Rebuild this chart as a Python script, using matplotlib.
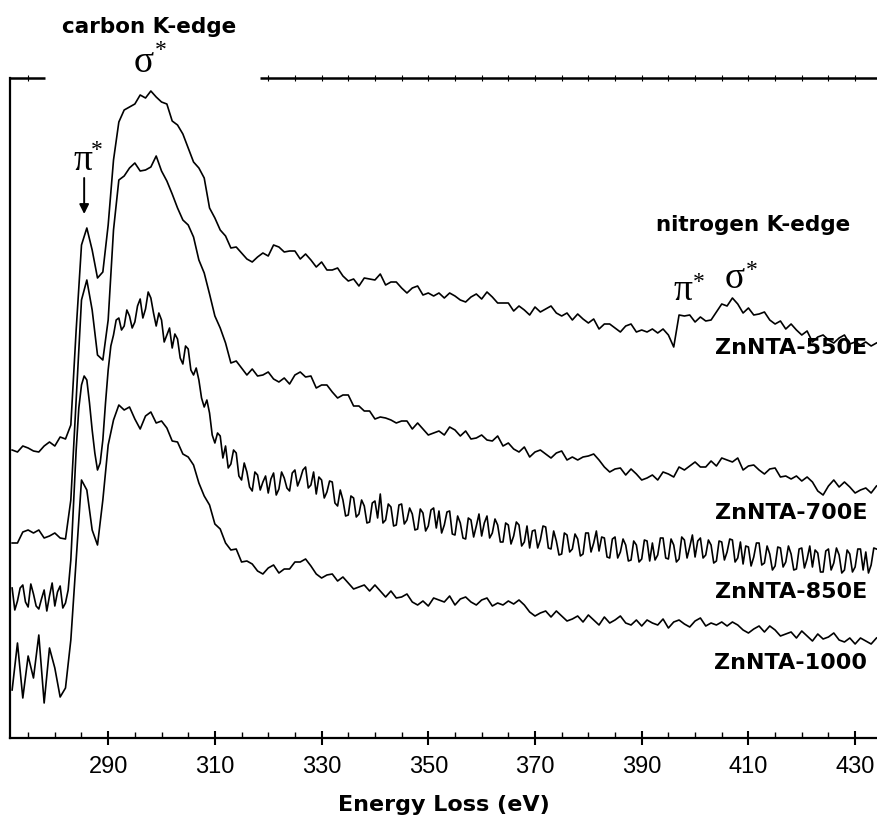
import numpy as np
import matplotlib.pyplot as plt

# energy loss channels (eV)
energy = np.arange(272, 435)
energy_fine = np.arange(272, 434.5, 0.5)  # finer channels for the noisy 850E run

# EELS intensities (a.u.), already stacked with vertical offsets
znnta_550e = [
    288, 286, 292, 290, 287, 286, 292, 296, 292, 301,
    299, 313, 408, 493, 510, 488, 460, 466, 513, 578,
    616, 628, 631, 634, 643, 640, 647, 641, 636, 634,
    617, 613, 604, 590, 576, 570, 560, 530, 520, 508,
    502, 490, 491, 485, 479, 476, 481, 485, 482, 493,
    491, 486, 487, 487, 479, 484, 478, 471, 476, 468,
    468, 470, 462, 457, 459, 452, 460, 459, 458, 464,
    453, 456, 456, 450, 445, 450, 452, 443, 445, 442,
    445, 440, 445, 442, 438, 436, 441, 444, 439, 446,
    441, 435, 435, 435, 427, 432, 428, 423, 431, 426,
    429, 432, 425, 422, 425, 418, 424, 419, 415, 419,
    409, 414, 414, 410, 406, 412, 414, 406, 408, 406,
    409, 405, 409, 403, 391, 423, 422, 423, 416, 421,
    417, 418, 426, 434, 432, 440, 434, 425, 430, 423,
    424, 426, 418, 414, 417, 409, 414, 408, 403, 407,
    396, 401, 403, 398, 395, 400, 403, 394, 396, 393,
    396, 392, 395,
]
znnta_700e = [
    195, 195, 206, 208, 205, 208, 200, 202, 205, 200,
    199, 238, 338, 438, 458, 428, 383, 378, 418, 508,
    558, 562, 570, 575, 567, 568, 571, 582, 567, 557,
    544, 530, 518, 513, 501, 478, 465, 444, 422, 410,
    395, 375, 377, 370, 363, 369, 362, 363, 366, 359,
    356, 360, 354, 363, 366, 361, 362, 350, 353, 353,
    346, 340, 343, 343, 332, 332, 327, 327, 319, 321,
    320, 318, 315, 317, 317, 309, 315, 309, 303, 305,
    307, 303, 311, 308, 302, 307, 299, 300, 303, 298,
    297, 302, 292, 295, 289, 286, 291, 281, 286, 288,
    284, 280, 285, 287, 278, 281, 278, 281, 282, 284,
    278, 271, 266, 269, 270, 263, 269, 264, 258, 260,
    263, 258, 266, 264, 261, 271, 268, 272, 276, 271,
    271, 277, 272, 280, 278, 276, 280, 268, 272, 273,
    268, 264, 269, 270, 261, 262, 259, 262, 257, 261,
    256, 247, 243, 252, 258, 251, 256, 251, 245, 248,
    250, 245, 252,
]
znnta_850e = [
    150, 128, 137, 150, 153, 136, 131, 154, 144, 132,
    129, 139, 148, 127, 142, 155, 132, 146, 152, 130,
    135, 148, 178, 232, 288, 330, 353, 362, 358, 335,
    308, 285, 268, 275, 298, 335, 368, 392, 403, 418,
    420, 408, 412, 428, 422, 410, 416, 432, 439, 420,
    429, 446, 440, 425, 412, 425, 418, 396, 403, 410,
    390, 404, 399, 380, 374, 392, 389, 368, 363, 370,
    358, 340, 331, 338, 325, 303, 295, 305, 302, 280,
    292, 270, 274, 288, 285, 262, 258, 275, 266, 251,
    247, 266, 263, 248, 256, 262, 245, 259, 265, 243,
    249, 266, 260, 250, 247, 265, 268, 252, 259, 268,
    271, 250, 253, 266, 244, 261, 258, 240, 246, 257,
    256, 235, 232, 248, 238, 222, 223, 242, 240, 221,
    224, 238, 232, 215, 216, 235, 237, 220, 244, 215,
    218, 234, 231, 212, 213, 233, 234, 214, 218, 230,
    224, 208, 209, 229, 225, 207, 212, 228, 230, 210,
    227, 205, 213, 226, 227, 204, 203, 222, 215, 200,
    199, 220, 218, 201, 212, 224, 202, 215, 222, 200,
    205, 219, 213, 196, 196, 215, 213, 194, 202, 216,
    213, 192, 196, 212, 190, 207, 208, 190, 198, 212,
    211, 190, 189, 207, 197, 183, 184, 205, 203, 186,
    189, 204, 199, 182, 184, 205, 205, 186, 195, 207,
    187, 201, 200, 181, 180, 199, 201, 180, 186, 199,
    193, 177, 178, 197, 193, 176, 179, 198, 197, 177,
    195, 178, 183, 200, 200, 180, 179, 199, 193, 176,
    179, 201, 198, 180, 191, 203, 181, 197, 200, 180,
    183, 198, 193, 175, 177, 197, 196, 178, 186, 199,
    198, 176, 180, 196, 174, 192, 191, 172, 181, 195,
    195, 173, 175, 192, 184, 168, 172, 191, 190, 171,
    176, 192, 184, 168, 169, 189, 190, 170, 179, 192,
    171, 188, 185, 166, 166, 187, 189, 168, 175, 190,
    183, 165, 168, 188, 184, 166, 171, 189, 189, 168,
    186, 165, 173, 190, 189,
]
znnta_1000 = [
    48, 95, 40, 82, 60, 103, 35, 90, 70, 41,
    50, 98, 178, 258, 248, 208, 193, 238, 293, 318,
    333, 328, 331, 319, 309, 322, 326, 315, 317, 310,
    297, 296, 284, 281, 273, 255, 242, 233, 214, 209,
    195, 188, 189, 176, 177, 174, 167, 164, 170, 173,
    165, 169, 169, 176, 176, 179, 172, 164, 160, 163,
    164, 157, 161, 155, 149, 151, 153, 147, 153, 147,
    141, 147, 140, 141, 144, 136, 133, 137, 132, 140,
    138, 136, 142, 133, 139, 141, 136, 133, 138, 140,
    132, 135, 133, 137, 134, 138, 133, 126, 122, 125,
    127, 121, 127, 122, 117, 119, 122, 116, 123, 118,
    113, 121, 115, 118, 122, 115, 113, 118, 112, 118,
    115, 113, 119, 110, 116, 118, 114, 111, 117, 120,
    112, 115, 113, 116, 112, 116, 113, 108, 105, 109,
    112, 106, 112, 108, 102, 104, 106, 100, 107, 102,
    97, 104, 99, 101, 105, 98, 96, 100, 94, 100,
    97, 94, 100,
]

spectra = [
    (energy, znnta_550e),
    (energy, znnta_700e),
    (energy_fine, znnta_850e),
    (energy, znnta_1000),
]
names = ['ZnNTA-550E', 'ZnNTA-700E', 'ZnNTA-850E', 'ZnNTA-1000']
name_y = [390, 225, 146, 75]

major_ticks = list(range(290, 431, 20))
minor_ticks = [t for t in range(275, 435, 5) if t not in major_ticks]

fig = plt.figure(figsize=(8.77, 8.23), dpi=100)
ax = fig.add_axes([10 / 877, 85 / 823, 867 / 877, 660 / 823])

for e, s in spectra:
    ax.plot(e, s, color='black', lw=1.2)

ax.set_xlim(271.6, 434.1)
ax.set_ylim(0, 660)
ax.set_yticks([])

ax.spines['right'].set_visible(False)
ax.spines['top'].set_visible(False)
ax.spines['left'].set_linewidth(1.6)
ax.spines['bottom'].set_linewidth(1.6)

ax.set_xticks(major_ticks)
ax.set_xticks(minor_ticks, minor=True)
ax.tick_params(axis='x', which='major', direction='inout', length=10, width=1.5,
               pad=8, labelsize=17)
ax.tick_params(axis='x', which='minor', direction='in', length=4, width=1)
for lab in ax.get_xticklabels():
    lab.set_family(['Liberation Sans Narrow', 'Liberation Sans'])

ax.set_xlabel('Energy Loss (eV)', fontsize=16, fontweight='bold', labelpad=12)

# top frame line, broken where the carbon K-edge labels sit
gap_lo, gap_hi = 278.2, 318.5
x0, x1 = ax.get_xlim()
for a, b in [(x0, gap_lo), (gap_hi, x1)]:
    ax.plot([a, b], [660, 660], color='black', lw=1.8, clip_on=False,
            solid_capstyle='butt')
top = ax.twiny()
top.set_xlim(x0, x1)
top.set_xticks([t for t in major_ticks if not gap_lo < t < gap_hi])
top.set_xticks([t for t in minor_ticks if not gap_lo < t < gap_hi], minor=True)
top.tick_params(axis='x', which='both', direction='inout', length=5, width=0.8,
                labeltop=False)
for sp in top.spines.values():
    sp.set_visible(False)


def starred(x, y, letter, dx, dy):
    # upright serif Greek letter with a raised asterisk
    ax.text(x, y, letter, fontsize=27, family='Liberation Serif',
            ha='center', va='baseline', clip_on=False)
    ax.text(x + dx, y + dy, '*', fontsize=17, family='Liberation Serif',
            ha='center', va='top', clip_on=False)


# edge labels
ax.text(297.7, 711, 'carbon K-edge', fontsize=15.5, fontweight='bold',
        ha='center', va='center', clip_on=False)
starred(296.7, 666, 'σ', 3.2, 32)
starred(285.2, 568, 'π', 2.6, 30)
ax.annotate('', xy=(285.5, 524), xytext=(285.5, 560),
            arrowprops=dict(arrowstyle='-|>', color='black', lw=1.4,
                            mutation_scale=14, shrinkA=0, shrinkB=0))

ax.text(410.8, 513, 'nitrogen K-edge', fontsize=15.5, fontweight='bold',
        ha='center', va='center')
starred(397.7, 438, 'π', 3.0, 28)
starred(407.4, 450, 'σ', 3.3, 28)

for name, y in zip(names, name_y):
    ax.text(432.3, y, name, fontsize=16, fontweight='bold', ha='right',
            va='center')

fig.savefig('out.png', dpi=100)
